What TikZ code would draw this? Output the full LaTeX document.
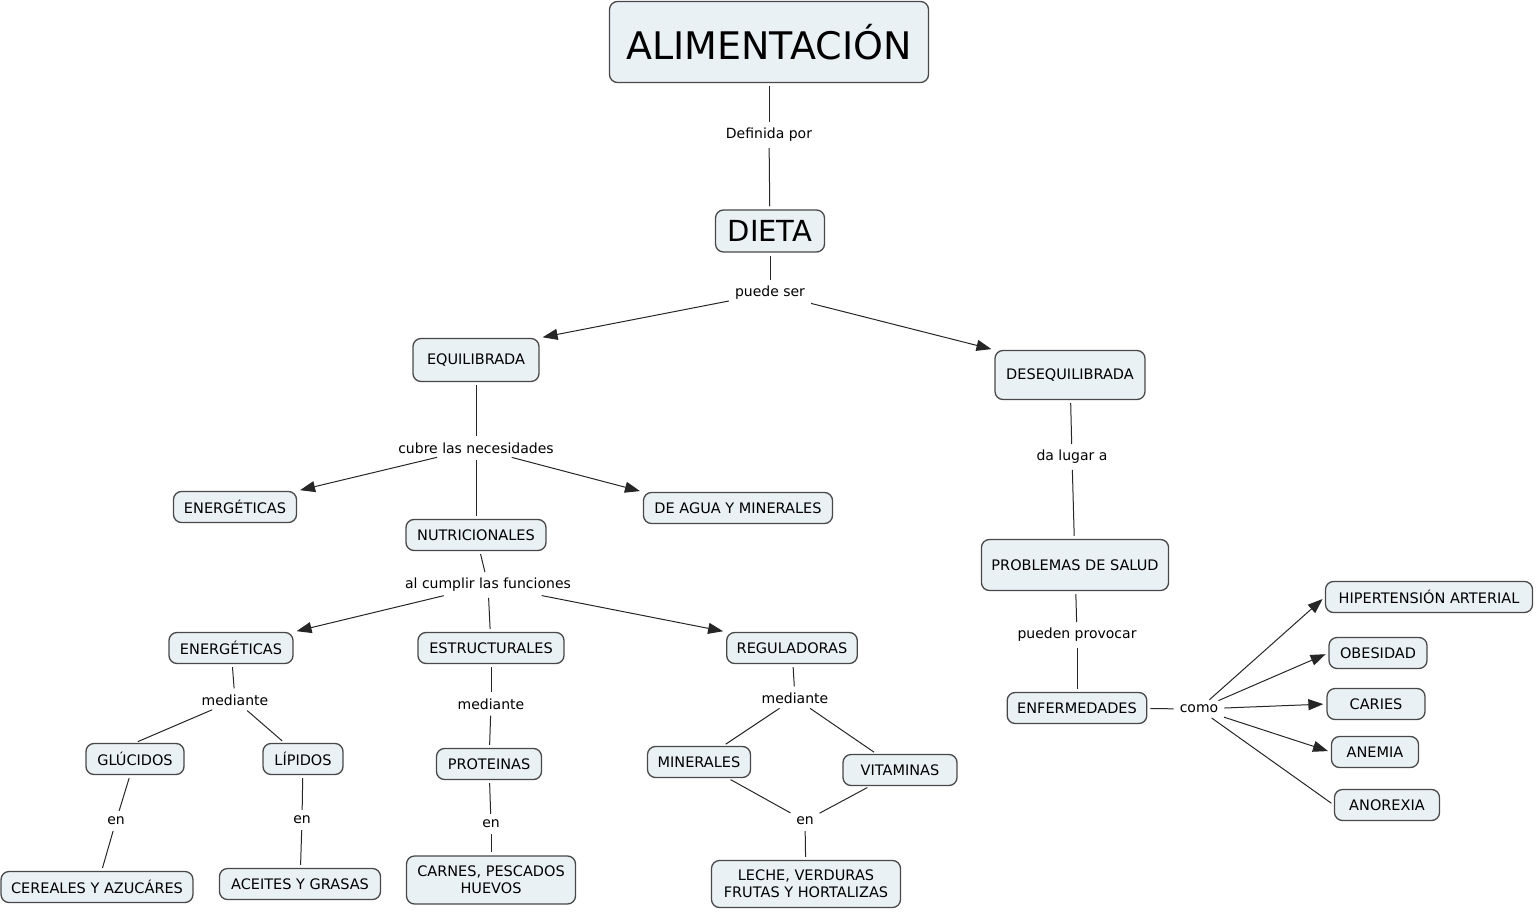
\documentclass[tikz,border=0pt]{standalone}
\usepackage{fontspec}
\setmainfont{DejaVu Sans}
\usetikzlibrary{arrows.meta}
\definecolor{conceptfill}{RGB}{234,241,245}
\definecolor{conceptline}{RGB}{72,72,72}
\tikzset{concept/.style={rectangle,rounded corners=8pt,draw=conceptline,fill=conceptfill,line width=1.3pt,inner xsep=10pt,minimum height=31pt,align=center,font=\fontsize{14.5}{17}\selectfont}}
\tikzset{phrase/.style={inner sep=3pt,font=\fontsize{14}{17}\selectfont}}
\tikzset{link/.style={draw=black!85,line width=1pt,shorten >=3pt,shorten <=3pt}}
\tikzset{links/.style={every edge/.style=link}}

\begin{document}
\begin{tikzpicture}[x=1pt,y=-1pt,>={Triangle[length=15pt,width=11pt]},links]
  \useasboundingbox (0,0) rectangle (1536,912);

  % top
  \node [concept,minimum width=319pt,minimum height=81pt,font=\fontsize{38}{44}\selectfont] (ALI) at (769,42) {ALIMENTACIÓN};
  \node [phrase] (def) at (769,135) {Definida por};
  \node [concept,minimum width=109pt,minimum height=42pt,font=\fontsize{29}{34}\selectfont] (DIE) at (770,231) {DIETA};
  \node [phrase] (pue) at (770,293) {puede ser};
  \node [concept,minimum width=126pt,minimum height=43pt] (EQU) at (476,360) {EQUILIBRADA};
  \node [concept,minimum width=150pt,minimum height=49pt] (DES) at (1070,375) {DESEQUILIBRADA};

  % equilibrada
  \node [phrase] (cub) at (476,448) {cubre las necesidades};
  \node [concept,minimum width=123pt] (ENE) at (235,507) {ENERGÉTICAS};
  \node [concept,minimum width=140pt] (NUT) at (476,535) {NUTRICIONALES};
  \node [concept,minimum width=189pt] (AGU) at (738,508) {DE AGUA Y MINERALES};
  \node [phrase] (cum) at (488,585) {al cumplir las funciones};
  \node [concept,minimum width=124pt] (FEN) at (231,648) {ENERGÉTICAS};
  \node [concept,minimum width=146pt] (EST) at (491,648) {ESTRUCTURALES};
  \node [concept,minimum width=129pt] (REG) at (792,648) {REGULADORAS};
  \node [phrase] (me1) at (235,700) {mediante};
  \node [phrase] (me2) at (491,704) {mediante};
  \node [phrase] (me3) at (795,698) {mediante};
  \node [concept,minimum width=98pt] (GLU) at (135,759) {GLÚCIDOS};
  \node [concept,minimum width=80pt] (LIP) at (303,759) {LÍPIDOS};
  \node [concept,minimum width=105pt] (PRO) at (489,764) {PROTEINAS};
  \node [concept,minimum width=103pt] (MIN) at (699,762) {MINERALES};
  \node [concept,minimum width=114pt] (VIT) at (900,770) {VITAMINAS};
  \node [phrase] (en1) at (116,821) {en};
  \node [phrase] (en2) at (302,820) {en};
  \node [phrase] (en3) at (491,824) {en};
  \node [phrase] (en4) at (805,821) {en};
  \node [concept,minimum width=190pt] (CER) at (97,887) {CEREALES Y AZUCÁRES};
  \node [concept,minimum width=161pt] (ACE) at (300,884) {ACEITES Y GRASAS};
  \node [concept,minimum width=169pt,minimum height=48pt] (CAR) at (491,880) {CARNES, PESCADOS\\HUEVOS};
  \node [concept,minimum width=189pt,minimum height=47pt] (LEC) at (806,884) {LECHE, VERDURAS\\FRUTAS Y HORTALIZAS};

  % desequilibrada
  \node [phrase] (dal) at (1072,457) {da lugar a};
  \node [concept,minimum width=187pt,minimum height=51pt] (PSA) at (1075,565) {PROBLEMAS DE SALUD};
  \node [phrase] (pro) at (1077,635) {pueden provocar};
  \node [concept,minimum width=139pt] (ENF) at (1077,708) {ENFERMEDADES};
  \node [phrase] (com) at (1199,709) {como};
  \node [concept,minimum width=207pt] (HIP) at (1429,597) {HIPERTENSIÓN ARTERIAL};
  \node [concept,minimum width=98pt] (OBE) at (1378,653) {OBESIDAD};
  \node [concept,minimum width=98pt] (CAI) at (1376,704) {CARIES};
  \node [concept,minimum width=87pt] (ANE) at (1375,752) {ANEMIA};
  \node [concept,minimum width=105pt] (ANO) at (1387,805) {ANOREXIA};

  \path (ALI) edge (def)
        (def) edge (DIE)
        (DIE) edge (pue)
        (pue) edge [->] (EQU.north east)
              edge [->] (DES.north west);

  \path (EQU) edge (cub)
        (cub) edge [->] (ENE.north east)
              edge (NUT)
              edge [->] (AGU.north west)
        (NUT) edge (cum)
        (cum) edge [->] (FEN.north east)
              edge (EST)
              edge [->] (REG.north west);

  \path (FEN) edge (me1)
        (me1) edge (GLU.north)
              edge (LIP)
        (GLU) edge (en1)
        (en1) edge (CER)
        (LIP) edge (en2)
        (en2) edge (ACE);

  \path (EST) edge (me2)
        (me2) edge (PRO)
        (PRO) edge (en3)
        (en3) edge (CAR);

  \path (REG) edge (me3)
        (me3) edge (MIN)
              edge (VIT)
        (MIN) edge (en4)
        (VIT) edge (en4)
        (en4) edge (LEC);

  \path (DES) edge (dal)
        (dal) edge (PSA)
        (PSA) edge (pro)
        (pro) edge (ENF)
        (ENF) edge (com)
        (com) edge [->] (HIP.west)
              edge [->] (OBE.west)
              edge [->] (CAI.west)
              edge [->] (ANE.west)
              edge (ANO.west);
\end{tikzpicture}
\end{document}
